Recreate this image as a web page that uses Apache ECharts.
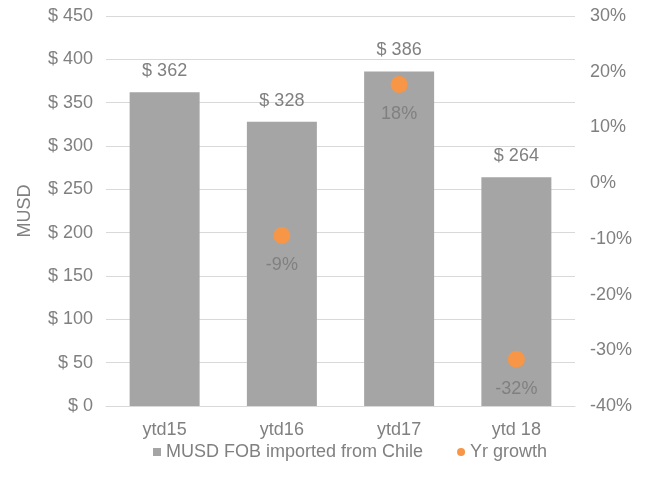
<!DOCTYPE html>
<html>
<head>
<meta charset="utf-8">
<script src="https://cdn.jsdelivr.net/npm/echarts@6/dist/echarts.min.js"></script>
<style>
  html, body { margin: 0; padding: 0; background: #fff; }
  #chart { width: 647px; height: 493px; }
</style>
</head>
<body>
<div id="chart"></div>
<script>
var categories = ['ytd15', 'ytd16', 'ytd17', 'ytd 18'];
var musdValues = [362, 328, 386, 264];
var growthValues = [null, -9.4, 17.7, -31.6];

var textColor = '#808080';
var font = 'Liberation Sans, Arial, sans-serif';
var fs = 18;

var chart = echarts.init(document.getElementById('chart'));

chart.setOption({
    animation: false,
    textStyle: { fontFamily: font },
    grid: { left: 106, right: 72, top: 16, bottom: 87 },
    legend: {
        bottom: 27,
        left: 148,
        itemWidth: 8,
        itemHeight: 8,
        itemGap: 34,
        textStyle: { color: textColor, fontSize: fs, fontFamily: font },
        data: [
            { name: 'MUSD FOB imported from Chile', icon: 'rect' },
            { name: 'Yr growth', icon: 'circle' }
        ]
    },
    xAxis: {
        type: 'category',
        data: categories,
        axisTick: { show: false },
        axisLine: { lineStyle: { color: '#d9d9d9', width: 1 } },
        axisLabel: { color: textColor, fontSize: fs, margin: 15 }
    },
    yAxis: [
        {
            type: 'value',
            min: 0,
            max: 450,
            interval: 50,
            name: 'MUSD',
            nameLocation: 'middle',
            nameGap: 72,
            nameTextStyle: { color: textColor, fontSize: fs },
            axisLabel: { color: textColor, fontSize: fs, margin: 13, formatter: '$ {value}' },
            splitLine: { lineStyle: { color: '#d9d9d9', width: 1 } },
            axisLine: { show: false },
            axisTick: { show: false }
        },
        {
            type: 'value',
            min: -40,
            max: 30,
            interval: 10,
            position: 'right',
            axisLabel: { color: textColor, fontSize: fs, margin: 15, formatter: '{value}%' },
            splitLine: { show: false },
            axisLine: { show: false },
            axisTick: { show: false }
        }
    ],
    series: [
        {
            name: 'MUSD FOB imported from Chile',
            type: 'bar',
            data: musdValues,
            barWidth: 70,
            itemStyle: { color: '#a5a5a5' },
            label: {
                show: true,
                position: 'top',
                distance: 12,
                color: textColor,
                fontSize: fs,
                formatter: function (p) { return '$ ' + p.value; }
            }
        },
        {
            name: 'Yr growth',
            type: 'scatter',
            yAxisIndex: 1,
            data: growthValues,
            symbolSize: 17,
            itemStyle: { color: '#f79646', opacity: 1 },
            label: {
                show: true,
                position: 'bottom',
                distance: 12,
                color: textColor,
                fontSize: fs,
                formatter: function (p) { return Math.round(p.value) + '%'; }
            }
        }
    ]
});
</script>
</body>
</html>
